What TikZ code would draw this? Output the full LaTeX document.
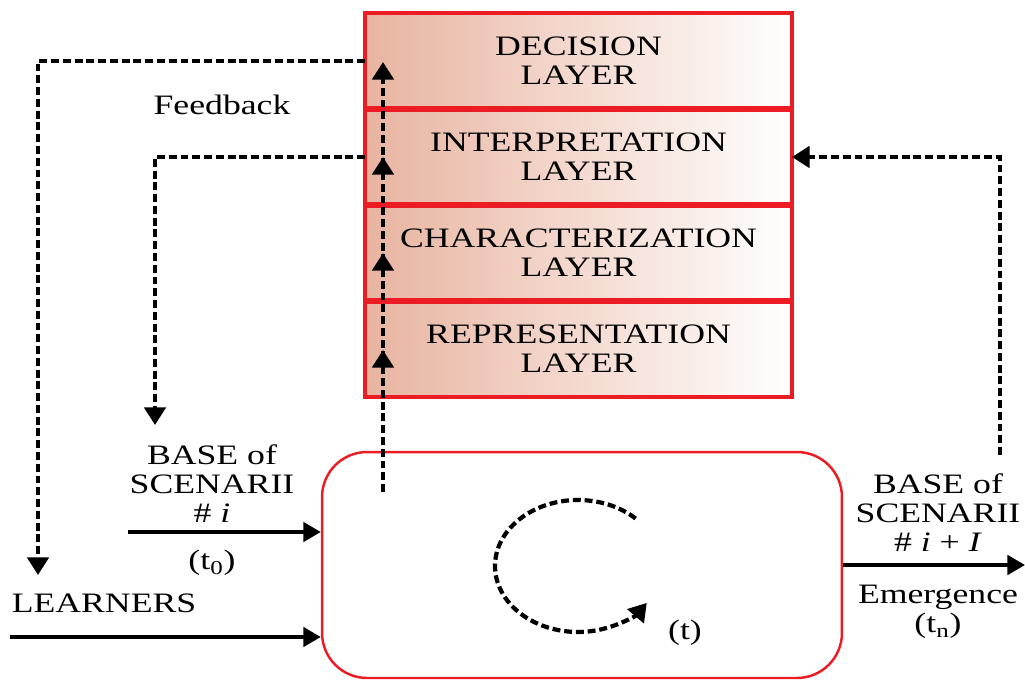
\documentclass[tikz,border=0pt]{standalone}
\usepackage{fontspec}
\setmainfont[FakeStretch=1.27]{Liberation Serif}
\usepackage{xcolor}
\definecolor{layerred}{HTML}{EC1C24}
\definecolor{layerpink}{HTML}{E8B4A0}
\usepackage{tikz}
\usetikzlibrary{arrows.meta}
\usetikzlibrary{positioning}

\tikzset{
    layer/.style = {left color=layerpink, right color=white,
        minimum width=8.54cm, minimum height=1.92cm, align=center, inner sep=0pt, outer sep=0pt},
    layerborder/.style = {draw=layerred, line width=2.6pt},
    txt/.style = {align=center, inner sep=0pt},
    solidarrow/.style = {line width=2.2pt, -{Triangle[length=10pt, width=11pt]}},
    fbarrow/.style = {line width=2.4pt, dash pattern=on 4.5pt off 2.2pt, -{Triangle[length=10pt, width=12pt]}},
}

\begin{document}
\begin{tikzpicture}[x=0.02cm, y=-0.02cm, font=\fontsize{16}{16.5}\selectfont]
            \useasboundingbox (0, 0) rectangle (1025, 680);

            % layer stack
            \node[layer] (decision) at (578.5, 61) {DECISION\\LAYER};
            \node[layer, below=0pt of decision] (interp) {INTERPRETATION\\LAYER};
            \node[layer, below=0pt of interp] (charac) {CHARACTERIZATION\\LAYER};
            \node[layer, below=0pt of charac] (repr) {REPRESENTATION\\LAYER};
            \draw[layerborder] (decision.north west) rectangle (repr.south east);
            \foreach \l in {interp, charac, repr}
                \draw[layerborder, line width=3.6pt] (\l.north west) -- (\l.north east);

            % process box
            \node[draw=layerred, line width=1.4pt, rounded corners=0.9cm,
                minimum width=10.4cm, minimum height=4.52cm] (process) at (582, 565) {};

            % labels
            \node[txt] (feedback) at (222, 105) {Feedback};
            \node[txt] (basein) at (212, 484) {BASE of\\SCENARII\\\# \textit{i}};
            \node[txt] (tzero) at (212, 563) {(t\textsubscript{0})};
            \node[txt] (learners) at (104, 603) {LEARNERS};
            \node[txt] (baseout) at (938, 513) {BASE of\\SCENARII\\\# \textit{i} + \textit{I}};
            \node[txt] (emerg) at (938, 612) {Emergence\\(t\textsubscript{n})};
            \node[txt] (tproc) at (685, 633) {(t)};

            % free ends
            \coordinate (fbout) at (38, 575);
            \coordinate (fbin) at (155, 425);
            \coordinate (fbright) at (1000, 455);
            \coordinate (inbase) at (128, 532);
            \coordinate (inlearn) at (10, 637);
            \coordinate (outend) at (1025, 565);
            \coordinate (up0) at (383, 492);
            \coordinate (up1) at (383, 350);
            \coordinate (up2) at (383, 253);
            \coordinate (up3) at (383, 157);
            \coordinate (up4) at (383, 62);
            \coordinate (loopc) at (578, 566);

            % feedback loops
            \draw[fbarrow] (decision.west) -| (fbout);
            \draw[fbarrow] (interp.west) -| (fbin);
            \draw[fbarrow] (fbright) |- (interp.east);

            % upward chain through the layers
            \draw[fbarrow] (up0) -- (up1);
            \draw[fbarrow] ([yshift=-12]up1) -- (up2);
            \draw[fbarrow] ([yshift=-12]up2) -- (up3);
            \draw[fbarrow] ([yshift=-12]up3) -- (up4);

            % inputs and output
            \draw[solidarrow] (inbase) -- (process.west |- inbase);
            \draw[solidarrow] (inlearn) -- (process.west |- inlearn);
            \draw[solidarrow] (process.east) -- (outend);

            % cycle
            \draw[fbarrow]
                ([shift={(46:1.66cm and 1.32cm)}]loopc)
                arc[start angle=46, end angle=326, x radius=1.66cm, y radius=1.32cm];
        \end{tikzpicture}
\end{document}
